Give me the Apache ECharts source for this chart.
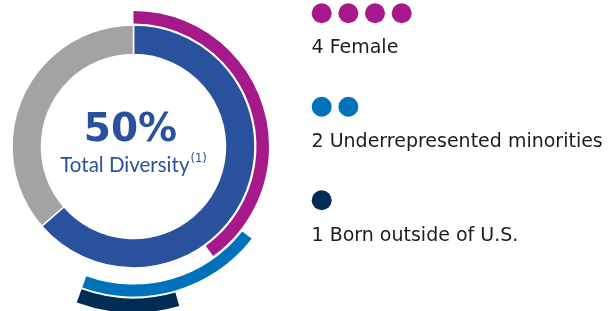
<!DOCTYPE html>
<html>
<head>
<meta charset="utf-8">
<script src="https://cdn.jsdelivr.net/npm/echarts@6/dist/echarts.min.js"></script>
<style>
html,body{margin:0;padding:0;background:#fff;}
#c{width:610px;height:311px;}
</style>
</head>
<body>
<div id="c"></div>
<script>
// ---- data ----
const categories = ['Female', 'Underrepresented minorities', 'Born outside of U.S.'];
const counts = [4, 2, 1];
const diversityPct = 50;
const donutNames = ['Diverse', 'Other'];
const donutValues = [7, 4];
const arcUnitsTotal = 10;          // one director = one tenth of the circle on the outer arcs
const centerTitle = 'Total Diversity';
const footnote = '(1)';

// ---- style / layout ----
const colors = ['#A5198B', '#0071BB', '#002C55'];
const donutColors = ['#2A519D', '#A3A3A3'];
const arcStartAngles = [90, -38, -74];
const arcRadii = [[123, 135.5], [138, 150], [152, 166]];
const C = [133.5, 146.5];

const chart = echarts.init(document.getElementById('c'), null, {renderer: 'canvas'});

const series = [];
series.push({
  type: 'pie', center: C, radius: [92, 121.5], startAngle: 90, clockwise: true,
  silent: true, animation: false, label: {show: false}, labelLine: {show: false},
  itemStyle: {borderColor: '#fff', borderWidth: 1.5},
  data: donutValues.map((v, i) => ({name: donutNames[i], value: v, itemStyle: {color: donutColors[i]}}))
});
counts.forEach((n, i) => {
  series.push({
    type: 'pie', center: C, radius: arcRadii[i], startAngle: arcStartAngles[i], clockwise: true,
    silent: true, animation: false, label: {show: false}, labelLine: {show: false},
    data: [
      {name: categories[i], value: n, itemStyle: {color: colors[i]}},
      {name: 'rest', value: arcUnitsTotal - n, itemStyle: {color: 'rgba(0,0,0,0)'}}
    ]
  });
});

// legend dots as scatter
const dots = [];
counts.forEach((n, i) => { for (let j = 0; j < n; j++) dots.push({value: [j, i], itemStyle: {color: colors[i], opacity: 1}}); });
series.push({
  type: 'scatter', xAxisIndex: 0, yAxisIndex: 0, symbol: 'circle', symbolSize: 20,
  itemStyle: {opacity: 1},
  silent: true, animation: false, data: dots
});

const textY = [48.3, 142.5, 235.8];
const graphics = counts.map((n, i) => ({
  type: 'text', x: 311.5, y: textY[i], silent: true,
  style: {text: n + ' ' + categories[i], fill: '#1c1c1c', font: '19px "DejaVu Sans"', align: 'left', verticalAlign: 'middle'}
}));
graphics.push({
  type: 'text', x: 130.5, y: 131, silent: true,
  style: {text: diversityPct + '%', fill: donutColors[0], font: 'bold 39px "DejaVu Sans"', align: 'center', verticalAlign: 'middle'}
});
graphics.push({
  type: 'text', x: 133.5, y: 165, silent: true,
  style: {
    text: '{a|' + centerTitle + '}{b|' + footnote + '}',
    align: 'center', verticalAlign: 'middle',
    rich: {
      a: {fill: donutColors[0], color: donutColors[0], fontFamily: 'Lato', fontWeight: 'normal', fontSize: 20.5, lineHeight: 24},
      b: {fill: donutColors[0], color: donutColors[0], fontFamily: 'DejaVu Sans', fontSize: 11.5, lineHeight: 24, verticalAlign: 'top', padding: [0, 0, 10, 1]}
    }
  }
});

chart.setOption({
  animation: false,
  backgroundColor: '#fff',
  grid: {left: 321.7, top: 13.3, width: 80, height: 187},
  xAxis: {type: 'value', min: 0, max: 3, show: false},
  yAxis: {type: 'value', min: 0, max: 2, inverse: true, show: false},
  series: series,
  graphic: graphics
});
</script>
</body>
</html>
